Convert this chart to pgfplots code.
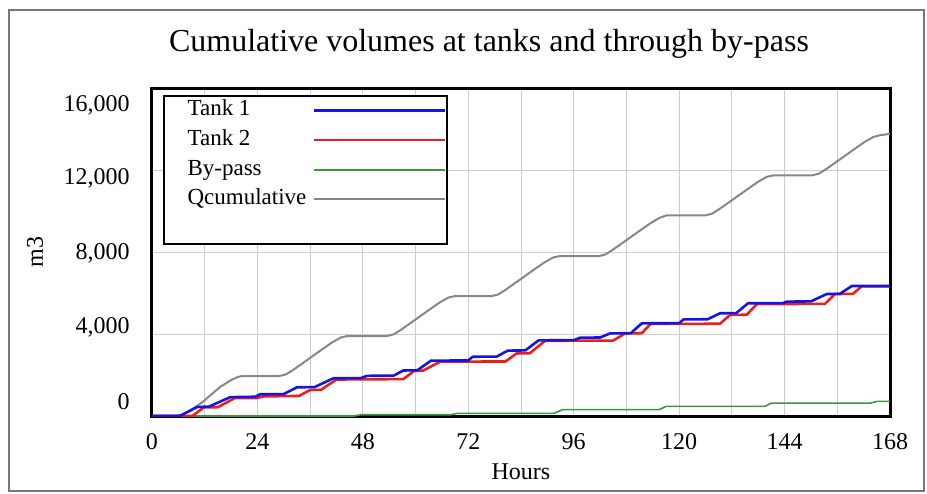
\documentclass[border=0pt]{standalone}
\usepackage{fontspec}
\setmainfont{Liberation Serif}
\usepackage{pgfplots}
\pgfplotsset{compat=1.18}

\definecolor{tankblue}{RGB}{20,20,230}
\definecolor{tankred}{RGB}{235,30,30}
\definecolor{bypassgreen}{RGB}{60,150,60}
\definecolor{qgray}{RGB}{135,135,135}
\definecolor{gridgray}{RGB}{205,205,205}
\definecolor{framegray}{RGB}{120,120,120}

% left padding inside the legend box
\newcommand{\legpad}{\hspace*{11.85pt}}

\begin{document}
\begin{tikzpicture}
\useasboundingbox (-76pt,-38.5pt) rectangle (387.5pt,208pt);
\draw[framegray, line width=0.8pt] (-71.5pt,-37.5pt) rectangle (386pt,203pt);
\begin{axis}[
    at={(0pt,0pt)}, anchor=south west,
    width=369pt, height=164pt, scale only axis,
    xmin=0, xmax=168, ymin=0, ymax=16000,
    scaled y ticks=false,
    axis line style={line width=1.5pt, black},
    xtick={0,24,...,168},
    minor xtick={12,36,...,156},
    ytick={0,4000,...,16000},
    yticklabels={},
    extra y ticks={683,4341,7951,11610,15170},
    extra y tick labels={0,{4,000},{8,000},{12,000},{16,000}},
    extra y tick style={grid=none},
    xmajorgrids, xminorgrids, ymajorgrids,
    grid style={gridgray, line width=0.5pt},
    minor grid style={gridgray, line width=0.5pt},
    tick style={draw=none},
    /pgf/number format/assume math mode=true,
    tick label style={font=\fontsize{12}{14}\selectfont},
    xticklabel style={anchor=north, inner sep=0pt, yshift=-8.5pt},
    yticklabel style={anchor=east, inner sep=0pt, xshift=-11pt},
    title={Cumulative volumes at tanks and through by-pass},
    title style={at={(axis description cs:0.4566,1)}, anchor=base, yshift=12.5pt,
        inner sep=0pt, font=\fontsize{16}{19}\selectfont},
    xlabel={Hours},
    x label style={at={(axis description cs:0.5,0)}, anchor=north, yshift=-23.5pt,
        inner sep=0pt, font=\fontsize{12}{14}\selectfont},
    ylabel={m3},
    y label style={at={(axis description cs:-0.1585,0.5)}, anchor=center,
        inner sep=0pt, font=\fontsize{12}{14}\selectfont},
    legend style={at={(0.0149,0.9787)}, anchor=north west, draw=black, line width=0.9pt,
        fill=white, inner xsep=0pt, inner ysep=2pt, row sep=4.35pt, column sep=3.35pt,
        font=\fontsize{11.5}{13}\selectfont,
        nodes={inner sep=0pt, text height=8pt, text depth=2.5pt}},
    legend cell align=left,
    legend plot pos=right,
    reverse legend,
    legend image code/.code={\draw[#1] (0pt,0pt) -- (65.5pt,0pt);},
    no marks,
]
% blank last row of the legend box
\addlegendimage{empty legend}
\addlegendentry{~}

\addplot[qgray, line width=1pt, line join=round] coordinates {
    (0,0) (5,0) (7,60) (9,300) (11.6,700) (15.4,1400) (18,1750) (19.5,1900) (20.5,1950)
    (29,1950) (30.5,2030) (32,2230) (34,2530) (38,3140) (41,3590) (43,3830) (44.5,3900)
    (53.5,3900) (55,3980) (56.5,4180) (58.5,4480) (62.5,5090) (65.5,5540) (67.5,5780) (69,5850)
    (77.3,5850) (78.8,5930) (80.3,6130) (82.3,6430) (86.3,7040) (89.3,7490) (91.3,7730) (92.8,7800)
    (101.7,7800) (103.2,7880) (104.7,8080) (106.7,8380) (110.7,8990) (113.7,9440) (115.7,9680) (117.2,9790)
    (126,9790) (127.5,9870) (129,10070) (131,10370) (135,10980) (138,11430) (140,11670) (141.5,11740)
    (150.3,11740) (151.8,11820) (153.3,12020) (155.3,12320) (159.3,12930) (162.3,13380) (164.3,13620)
    (165.8,13700) (168,13760)
};
\addlegendentry{\legpad Qcumulative}

\addplot[bypassgreen, line width=0.8pt] coordinates {
    (0,0) (46,0) (47.5,60) (68,60) (69.5,130) (91.5,130) (93.5,310) (115.5,310)
    (117,470) (139.5,470) (141,630) (163.5,630) (165,710) (168,710)
};
\addlegendentry{\legpad By-pass}

\addplot[tankred, line width=1.3pt, line join=round] coordinates {
    (0,0) (9.2,0) (11.8,420) (15,430) (18.8,870) (24,880) (25.5,960) (31,970)
    (33.5,980) (36,1270) (38.5,1280) (42,1780) (57.2,1800) (59.7,2200) (61.7,2210)
    (65.6,2650) (80.5,2660) (83,3050) (86,3060) (89.5,3670) (105,3680) (107.7,4030)
    (111.5,4040) (113.5,4490) (129.3,4500) (131.6,4930) (135.4,4940) (137.7,5460)
    (153.2,5470) (155.5,5950) (159.6,5960) (161.5,6320) (168,6330)
};
\addlegendentry{\legpad Tank 2}

\addplot[tankblue, line width=1.3pt, line join=round] coordinates {
    (0,0) (6.3,0) (10.3,440) (13,460) (17.8,920) (23.5,940) (24.6,1060) (30,1070)
    (33,1400) (37,1410) (41.3,1840) (47.5,1850) (49,1960) (55,1970) (57.2,2220)
    (60.4,2230) (63.5,2700) (72,2710) (73,2890) (78.5,2900) (81,3190) (85,3200)
    (88,3690) (96,3700) (97.5,3820) (102,3830) (104.3,4030) (109,4040) (111.5,4520)
    (120,4530) (121,4710) (126.5,4720) (129.3,5010) (133,5020) (135.7,5500)
    (143.7,5510) (144.5,5580) (150,5590) (153.6,5950) (156.6,5960) (159.3,6340) (168,6340)
};
\addlegendentry{\legpad Tank 1}
\end{axis}
\end{tikzpicture}
\end{document}
